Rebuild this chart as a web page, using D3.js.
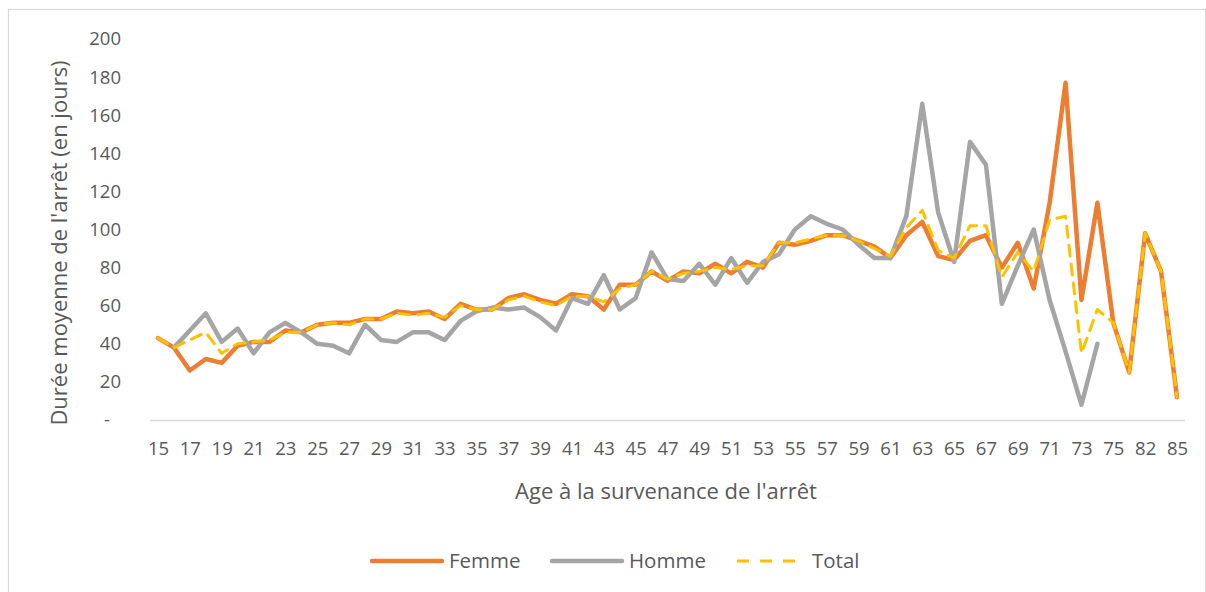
<!DOCTYPE html>
<html>
<head>
<meta charset="utf-8">
<script src="https://cdn.jsdelivr.net/npm/d3@7"></script>
<style>
  body { margin: 0; background: #fff; }
  text { font-family: "Open Sans", sans-serif; fill: #595959; }
</style>
</head>
<body>
<svg id="chart" width="1206" height="592"></svg>
<script>
// données
const ages = ["15","16","17","18","19","20","21","22","23","24","25","26","27","28","29","30",
  "31","32","33","34","35","36","37","38","39","40","41","42","43","44","45","46","47","48",
  "49","50","51","52","53","54","55","56","57","58","59","60","61","62","63","64","65","66",
  "67","68","69","70","71","72","73","74","75","76","82","83","85"];

const femme = [43,38,26,32,30,39,41,41,47,46,50,51,51,53,53,57,56,57,53,61,58,58,64,66,63,61,
  66,65,58,71,71,78,73,78,77,82,77,83,80,93,92,94,97,97,94,91,85,97,104,86,84,94,97,80,93,69,
  114,177,63,114,51,25,98,78,12];

const homme = [null,38,47,56,41,48,35,46,51,46,40,39,35,50,42,41,46,46,42,52,57,59,58,59,54,47,
  64,61,76,58,64,88,74,73,82,71,85,72,83,87,100,107,103,100,92,85,85,107,166,109,83,146,134,61,
  81,100,63,36,8,40,null,null,null,null,null];

const total = [43,38,42,46,35,40,41,42,46,46,50,51,50,53,53,56,55,56,54,60,58,58,63,65,62,60,
  65,65,62,69,71,78,74,77,78,80,79,81,81,93,93,95,97,97,94,90,86,101,110,89,85,102,102,75,88,78,
  105,107,35,58,51,25,98,78,12];

const yTicks = [0,20,40,60,80,100,120,140,160,180,200];

const series = [
  { name: "Femme", values: femme, color: "#ED7D31", width: 4.5, dash: null },
  { name: "Homme", values: homme, color: "#A5A5A5", width: 4.5, dash: null },
  { name: "Total", values: total, color: "#FFC000", width: 3, dash: "11,8" }
];

const svg = d3.select("#chart");

// cadre
svg.append("rect")
  .attr("x", 8.5).attr("y", 9.5)
  .attr("width", 1197).attr("height", 600)
  .attr("fill", "none").attr("stroke", "#d9d9d9").attr("stroke-width", 1.2);

// échelles
const x = d3.scalePoint().domain(ages).range([158, 1177]);
const y = d3.scaleLinear().domain([0, 200]).range([420, 39]);

// axe X
const xAxis = svg.append("g")
  .attr("transform", "translate(0,420)")
  .call(d3.axisBottom(x)
    .tickValues(ages.filter(function (d, i) { return i % 2 === 0; }))
    .tickSize(0).tickPadding(22));
xAxis.select(".domain").remove();
xAxis.selectAll("text").attr("font-size", 18.5).style("font-family", "Open Sans").attr("fill", "#595959");

svg.append("line")
  .attr("x1", 150).attr("x2", 1185)
  .attr("y1", 420.5).attr("y2", 420.5)
  .attr("stroke", "#d9d9d9").attr("stroke-width", 1.5);

// axe Y
const yAxis = svg.append("g")
  .attr("transform", "translate(121,0)")
  .call(d3.axisLeft(y).tickValues(yTicks).tickSize(0).tickPadding(0)
    .tickFormat(function (d) { return d === 0 ? "-" : d; }));
yAxis.select(".domain").remove();
yAxis.selectAll("text").attr("font-size", 18.5).style("font-family", "Open Sans").attr("fill", "#595959");
yAxis.selectAll(".tick").filter(function (d) { return d === 0; })
  .select("text").attr("x", -11);

// titres
svg.append("text")
  .attr("x", 666).attr("y", 499)
  .attr("text-anchor", "middle").attr("font-size", 22)
  .text("Age à la survenance de l'arrêt");

svg.append("text")
  .attr("transform", "translate(67,243) rotate(-90)")
  .attr("text-anchor", "middle").attr("font-size", 22)
  .text("Durée moyenne de l'arrêt (en jours)");

// courbes
const line = d3.line()
  .defined(function (d) { return d != null; })
  .x(function (d, i) { return x(ages[i]); })
  .y(function (d) { return y(d); });

series.forEach(function (s) {
  svg.append("path")
    .datum(s.values)
    .attr("fill", "none")
    .attr("stroke", s.color)
    .attr("stroke-width", s.width)
    .attr("stroke-linejoin", "round")
    .attr("stroke-linecap", "round")
    .attr("stroke-dasharray", s.dash)
    .attr("d", line);
});

// légende
const legendPos = [
  { x1: 372, x2: 442, tx: 449 },
  { x1: 552, x2: 622, tx: 629 },
  { x1: 737, x2: 797, tx: 812 }
];
series.forEach(function (s, i) {
  const p = legendPos[i];
  svg.append("line")
    .attr("x1", p.x1).attr("x2", p.x2)
    .attr("y1", 561).attr("y2", 561)
    .attr("stroke", s.color)
    .attr("stroke-width", s.width)
    .attr("stroke-linecap", s.dash ? "butt" : "round")
    .attr("stroke-dasharray", s.dash ? "12,11" : null);
  svg.append("text")
    .attr("x", p.tx).attr("y", 561)
    .attr("dy", "0.35em")
    .attr("font-size", 20.5)
    .text(s.name);
});
</script>
</body>
</html>
